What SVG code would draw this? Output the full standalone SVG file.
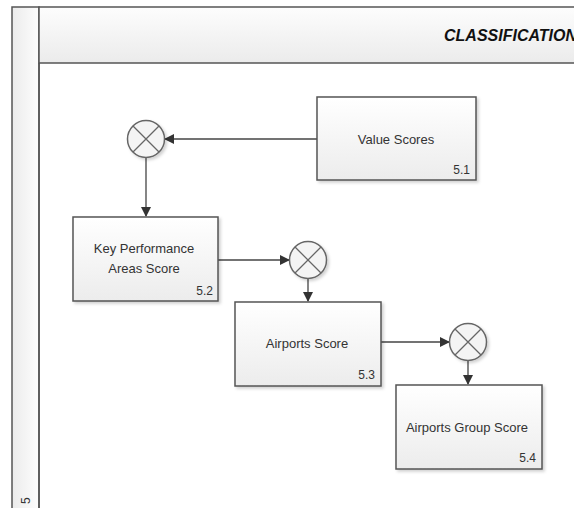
<svg xmlns="http://www.w3.org/2000/svg" width="574" height="508" viewBox="0 0 574 508">
<defs>
<linearGradient id="boxg" x1="0" y1="0" x2="0" y2="1">
<stop offset="0" stop-color="#ffffff"/>
<stop offset="1" stop-color="#ececec"/>
</linearGradient>
<linearGradient id="hdrg" x1="0" y1="0" x2="0" y2="1">
<stop offset="0" stop-color="#fdfdfd"/>
<stop offset="1" stop-color="#ebebeb"/>
</linearGradient>
<linearGradient id="stripg" x1="0" y1="0" x2="1" y2="0">
<stop offset="0" stop-color="#ebebeb"/>
<stop offset="1" stop-color="#fdfdfd"/>
</linearGradient>
<marker id="arr" markerWidth="10" markerHeight="10" refX="9" refY="5" orient="auto" markerUnits="userSpaceOnUse">
<path d="M0,0 L10,5 L0,10 Z" fill="#333"/>
</marker>
<filter id="sh" x="-10%" y="-10%" width="130%" height="130%">
<feDropShadow dx="2" dy="2" stdDeviation="1.5" flood-color="#000" flood-opacity="0.18"/>
</filter>
</defs>
<style>
.box{fill:url(#boxg);stroke:#555;stroke-width:1.5;filter:url(#sh)}
.lbl{font-family:"Liberation Sans",Arial,sans-serif;font-size:13px;fill:#333;text-anchor:middle}
.num{font-family:"Liberation Sans",Arial,sans-serif;font-size:12px;fill:#333;text-anchor:end}
.gate circle{fill:#f4f4f4;stroke:#666;stroke-width:1.5;filter:url(#sh)}
.gate path{stroke:#666;stroke-width:1.3;fill:none}
.conn path{stroke:#444;stroke-width:1.3;fill:none;marker-end:url(#arr)}
.frame{stroke:#555;stroke-width:1.5}
</style>
<rect width="574" height="508" fill="#fff"/>
<g id="lane">
<rect x="12" y="7" width="27" height="510" fill="url(#stripg)" class="frame"/>
<rect x="39" y="7" width="545" height="56" fill="url(#hdrg)" class="frame"/>
<line x1="39" y1="63" x2="39" y2="508" class="frame"/>
<text x="444" y="41" font-family="'Liberation Sans',Arial,sans-serif" font-size="16" font-weight="bold" font-style="italic" fill="#111">CLASSIFICATION</text>
<text transform="translate(30,504) rotate(-90)" font-family="'Liberation Sans',Arial,sans-serif" font-size="12" fill="#333">5</text>
</g>
<g class="conn">
<path d="M317,139 L165,139"/>
<path d="M146,158 L146,216"/>
<path d="M218,260 L289,260"/>
<path d="M308,279 L308,301"/>
<path d="M381,342 L449,342"/>
<path d="M468,361 L468,384"/>
</g>
<g id="n51">
<rect class="box" x="317" y="97" width="159" height="83"/>
<text class="lbl" x="396" y="144">Value Scores</text>
<text class="num" x="470" y="174">5.1</text>
</g>
<g id="g1" class="gate">
<circle cx="146" cy="139" r="18.5"/>
<path d="M133,126 L159,152 M159,126 L133,152"/>
</g>
<g id="n52">
<rect class="box" x="73" y="217" width="145" height="84"/>
<text class="lbl" x="144" y="253">Key Performance</text>
<text class="lbl" x="144" y="273">Areas Score</text>
<text class="num" x="213" y="295">5.2</text>
</g>
<g id="g2" class="gate">
<circle cx="308" cy="260" r="18.5"/>
<path d="M295,247 L321,273 M321,247 L295,273"/>
</g>
<g id="n53">
<rect class="box" x="235" y="302" width="146" height="84"/>
<text class="lbl" x="307" y="348">Airports  Score</text>
<text class="num" x="375" y="379">5.3</text>
</g>
<g id="g3" class="gate">
<circle cx="468" cy="342" r="18.5"/>
<path d="M455,329 L481,355 M481,329 L455,355"/>
</g>
<g id="n54">
<rect class="box" x="396" y="385" width="146" height="84"/>
<text class="lbl" x="467" y="432">Airports Group Score</text>
<text class="num" x="536" y="462">5.4</text>
</g>
</svg>
